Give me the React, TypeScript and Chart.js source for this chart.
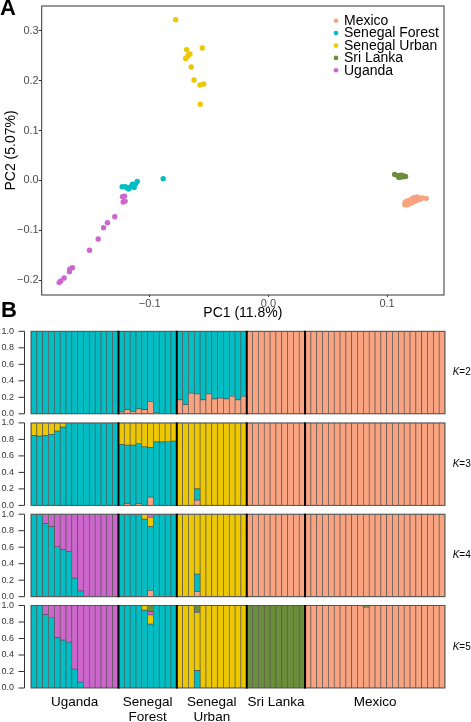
import React, { useEffect, useRef } from 'react';
import { Chart, registerables } from 'chart.js';
Chart.register(...registerables);

const FONT = '"Liberation Sans", Arial, Helvetica, sans-serif';
Chart.defaults.font.family = FONT;
Chart.defaults.color = '#333';

// ---------- Panel A: PCA ----------
const populations = ['Mexico', 'Senegal Forest', 'Senegal Urban', 'Sri Lanka', 'Uganda'];
const popColors = ['#F9A380', '#00BEC4', '#EDC800', '#6B8E3B', '#CC66CC'];

const mexicoPC = [
  [0.1150, -0.049], [0.1153, -0.044], [0.1160, -0.047], [0.1166, -0.042], [0.1172, -0.049], [0.1178, -0.044],
  [0.1185, -0.040], [0.1190, -0.047], [0.1196, -0.042], [0.1203, -0.038], [0.1208, -0.045], [0.1214, -0.040],
  [0.1220, -0.035], [0.1225, -0.043], [0.1231, -0.038], [0.1237, -0.034], [0.1243, -0.041], [0.1249, -0.036],
  [0.1255, -0.033], [0.1262, -0.039], [0.1270, -0.035], [0.1282, -0.038], [0.1298, -0.035], [0.1330, -0.036],
];
const senegalForestPC = [
  [-0.1232, -0.0128], [-0.1207, -0.0128], [-0.1195, -0.0141], [-0.1178, -0.0174], [-0.1159, -0.0128],
  [-0.1145, -0.0074], [-0.1131, -0.0141], [-0.1119, -0.0074], [-0.1105, -0.0021], [-0.0886, 0.0033],
];
const senegalUrbanPC = [
  [-0.0781, 0.3226], [-0.0689, 0.2625], [-0.0557, 0.2657], [-0.0697, 0.2445], [-0.0680, 0.2490], [-0.0661, 0.2537],
  [-0.0672, 0.2525], [-0.0650, 0.2277], [-0.0627, 0.2016], [-0.0576, 0.1916], [-0.0545, 0.1936], [-0.0574, 0.1529],
];
const sriLankaPC = [
  [0.1064, 0.0120], [0.1090, 0.0095], [0.1100, 0.0060], [0.1108, 0.0100], [0.1115, 0.0075],
  [0.1122, 0.0105], [0.1128, 0.0070], [0.1135, 0.0090], [0.1145, 0.0080], [0.1156, 0.0078],
];
const ugandaPC = [
  [-0.1229, -0.0328], [-0.1212, -0.0315], [-0.1223, -0.0435], [-0.1207, -0.0415], [-0.1294, -0.0729],
  [-0.1356, -0.0849], [-0.1389, -0.0949], [-0.1434, -0.1176], [-0.1507, -0.1403], [-0.1651, -0.1751],
  [-0.1673, -0.1784], [-0.1676, -0.1831], [-0.1721, -0.1958], [-0.1749, -0.2018], [-0.1763, -0.2051],
];
const pcaSets = [mexicoPC, senegalForestPC, senegalUrbanPC, sriLankaPC, ugandaPC];
const pc1Ticks = [-0.1, 0.0, 0.1];
const pc2Ticks = [-0.2, -0.1, 0.0, 0.1, 0.2, 0.3];

// ---------- Panel B: admixture ----------
const groupLabels = [['Uganda'], ['Senegal', 'Forest'], ['Senegal', 'Urban'], ['Sri Lanka'], ['Mexico']];
const groupCodes = ['UG', 'SF', 'SU', 'SL', 'MX'];
const groupSizes = [15, 10, 12, 10, 24];
const sampleIds = groupCodes.flatMap((g, i) => Array.from({ length: groupSizes[i] }, (_, j) => `${g}${j + 1}`));
const admixTicks = [0, 0.2, 0.4, 0.6, 0.8, 1.0];

const k2Orange = [
  0, 0, 0, 0, 0, 0, 0, 0, 0, 0, 0, 0, 0, 0, 0,
  0.02, 0.05, 0.03, 0.06, 0.05, 0.15, 0.01, 0.005, 0.005, 0,
  0.17, 0.11, 0.25, 0.24, 0.17, 0.24, 0.18, 0.19, 0.18, 0.21, 0.17, 0.21,
  1, 1, 1, 1, 1, 1, 1, 1, 1, 1,
  1, 1, 1, 1, 1, 1, 1, 1, 1, 1, 1, 1, 1, 1, 1, 1, 1, 1, 1, 1, 1, 1, 1, 1,
];
const k2Cyan = [
  1, 1, 1, 1, 1, 1, 1, 1, 1, 1, 1, 1, 1, 1, 1,
  0.98, 0.95, 0.97, 0.94, 0.95, 0.85, 0.99, 0.995, 0.995, 1,
  0.83, 0.89, 0.75, 0.76, 0.83, 0.76, 0.82, 0.81, 0.82, 0.79, 0.83, 0.79,
  0, 0, 0, 0, 0, 0, 0, 0, 0, 0,
  0, 0, 0, 0, 0, 0, 0, 0, 0, 0, 0, 0, 0, 0, 0, 0, 0, 0, 0, 0, 0, 0, 0, 0,
];

const k3Orange = [
  0, 0, 0, 0, 0, 0, 0, 0, 0, 0, 0, 0, 0, 0, 0,
  0, 0.02, 0, 0.02, 0, 0.1, 0, 0, 0, 0,
  0, 0, 0, 0.065, 0, 0, 0, 0, 0, 0, 0, 0,
  1, 1, 1, 1, 1, 1, 1, 1, 1, 1,
  1, 1, 1, 1, 1, 1, 1, 1, 1, 1, 1, 1, 1, 1, 1, 1, 1, 1, 1, 1, 1, 1, 1, 1,
];
const k3Cyan = [
  0.85, 0.84, 0.85, 0.86, 0.9, 0.95, 1, 1, 1, 1, 1, 1, 1, 1, 1,
  0.74, 0.71, 0.73, 0.73, 0.71, 0.6, 0.77, 0.77, 0.775, 0.78,
  0, 0, 0, 0.135, 0, 0, 0, 0, 0, 0, 0, 0,
  0, 0, 0, 0, 0, 0, 0, 0, 0, 0,
  0, 0, 0, 0, 0, 0, 0, 0, 0, 0, 0, 0, 0, 0, 0, 0, 0, 0, 0, 0, 0, 0, 0, 0,
];
const k3Yellow = [
  0.15, 0.16, 0.15, 0.14, 0.1, 0.05, 0, 0, 0, 0, 0, 0, 0, 0, 0,
  0.26, 0.27, 0.27, 0.25, 0.29, 0.3, 0.23, 0.23, 0.225, 0.22,
  1, 1, 1, 0.8, 1, 1, 1, 1, 1, 1, 1, 1,
  0, 0, 0, 0, 0, 0, 0, 0, 0, 0,
  0, 0, 0, 0, 0, 0, 0, 0, 0, 0, 0, 0, 0, 0, 0, 0, 0, 0, 0, 0, 0, 0, 0, 0,
];

const k4Orange = [
  0, 0, 0, 0, 0, 0, 0, 0, 0, 0, 0, 0, 0, 0, 0,
  0, 0, 0, 0, 0, 0.075, 0, 0, 0, 0,
  0, 0, 0, 0.06, 0, 0, 0, 0, 0, 0, 0, 0,
  1, 1, 1, 1, 1, 1, 1, 1, 1, 1,
  1, 1, 1, 1, 1, 1, 1, 1, 1, 1, 1, 1, 1, 1, 1, 1, 1, 1, 1, 1, 1, 1, 1, 1,
];
const k4Cyan = [
  1, 1, 0.89, 0.85, 0.605, 0.575, 0.55, 0.225, 0.07, 0, 0, 0, 0, 0, 0,
  1, 1, 1, 1, 0.94, 0.775, 1, 1, 1, 1,
  0, 0, 0, 0.215, 0, 0, 0, 0, 0, 0, 0, 0,
  0, 0, 0, 0, 0, 0, 0, 0, 0, 0,
  0, 0, 0, 0, 0, 0, 0, 0, 0, 0, 0, 0, 0, 0, 0, 0, 0, 0, 0, 0, 0, 0, 0, 0,
];
const k4Yellow = [
  0, 0, 0, 0, 0, 0, 0, 0, 0, 0, 0, 0, 0, 0, 0,
  0, 0, 0, 0, 0.06, 0.11, 0, 0, 0, 0,
  1, 1, 1, 0.725, 1, 1, 1, 1, 1, 1, 1, 1,
  0, 0, 0, 0, 0, 0, 0, 0, 0, 0,
  0, 0, 0, 0, 0, 0, 0, 0, 0, 0, 0, 0, 0, 0, 0, 0, 0, 0, 0, 0, 0, 0, 0, 0,
];
const k4Purple = [
  0, 0, 0.11, 0.15, 0.395, 0.425, 0.45, 0.775, 0.93, 1, 1, 1, 1, 1, 1,
  0, 0, 0, 0, 0, 0.04, 0, 0, 0, 0,
  0, 0, 0, 0, 0, 0, 0, 0, 0, 0, 0, 0,
  0, 0, 0, 0, 0, 0, 0, 0, 0, 0,
  0, 0, 0, 0, 0, 0, 0, 0, 0, 0, 0, 0, 0, 0, 0, 0, 0, 0, 0, 0, 0, 0, 0, 0,
];

const k5Orange = [
  0, 0, 0, 0, 0, 0, 0, 0, 0, 0, 0, 0, 0, 0, 0,
  0, 0, 0, 0, 0, 0, 0, 0, 0, 0,
  0, 0, 0, 0, 0, 0, 0, 0, 0, 0, 0, 0,
  0, 0, 0, 0, 0, 0, 0, 0, 0, 0,
  1, 1, 1, 1, 1, 1, 1, 1, 1, 1, 0.98, 1, 1, 1, 1, 1, 1, 1, 1, 1, 1, 1, 1, 1,
];
const k5Cyan = [
  1, 1, 0.89, 0.855, 0.61, 0.58, 0.555, 0.23, 0.07, 0, 0, 0, 0, 0, 0,
  1, 1, 1, 1, 0.945, 0.775, 1, 1, 1, 1,
  0, 0, 0, 0.21, 0, 0, 0, 0, 0, 0, 0, 0,
  0, 0, 0, 0, 0, 0, 0, 0, 0, 0,
  0, 0, 0, 0, 0, 0, 0, 0, 0, 0, 0, 0, 0, 0, 0, 0, 0, 0, 0, 0, 0, 0, 0, 0,
];
const k5Yellow = [
  0, 0, 0, 0, 0, 0, 0, 0, 0, 0, 0, 0, 0, 0, 0,
  0, 0, 0, 0, 0.055, 0.11, 0, 0, 0, 0,
  1, 1, 1, 0.705, 1, 1, 1, 1, 1, 1, 1, 1,
  0, 0, 0, 0, 0, 0, 0, 0, 0, 0,
  0, 0, 0, 0, 0, 0, 0, 0, 0, 0, 0, 0, 0, 0, 0, 0, 0, 0, 0, 0, 0, 0, 0, 0,
];
const k5Purple = [
  0, 0, 0.11, 0.145, 0.39, 0.42, 0.445, 0.77, 0.93, 1, 1, 1, 1, 1, 1,
  0, 0, 0, 0, 0, 0.04, 0, 0, 0, 0,
  0, 0, 0, 0, 0, 0, 0, 0, 0, 0, 0, 0,
  0, 0, 0, 0, 0, 0, 0, 0, 0, 0,
  0, 0, 0, 0, 0, 0, 0, 0, 0, 0, 0, 0, 0, 0, 0, 0, 0, 0, 0, 0, 0, 0, 0, 0,
];
const k5Green = [
  0, 0, 0, 0, 0, 0, 0, 0, 0, 0, 0, 0, 0, 0, 0,
  0, 0, 0, 0, 0, 0.075, 0, 0, 0, 0,
  0, 0, 0, 0.085, 0, 0, 0, 0, 0, 0, 0, 0,
  1, 1, 1, 1, 1, 1, 1, 1, 1, 1,
  0, 0, 0, 0, 0, 0, 0, 0, 0, 0, 0.02, 0, 0, 0, 0, 0, 0, 0, 0, 0, 0, 0, 0, 0,
];

const ORANGE = popColors[0], CYAN = popColors[1], YELLOW = popColors[2], GREEN = popColors[3], PURPLE = popColors[4];

const panels = [
  { k: 2, series: [k2Orange, k2Cyan], colors: [ORANGE, CYAN] },
  { k: 3, series: [k3Orange, k3Cyan, k3Yellow], colors: [ORANGE, CYAN, YELLOW] },
  { k: 4, series: [k4Orange, k4Cyan, k4Yellow, k4Purple], colors: [ORANGE, CYAN, YELLOW, PURPLE] },
  { k: 5, series: [k5Orange, k5Cyan, k5Yellow, k5Purple, k5Green], colors: [ORANGE, CYAN, YELLOW, PURPLE, GREEN] },
];

// ---------- layout ----------
const W = 471;
const PCA_H = 322;
const panelTops = [331.3, 422.9, 514.2, 605.5];
const PANEL_H = 82.5;

const fmtSigned = (v: number) =>
  Math.abs(v) < 1e-9 ? '0.0' : (v < 0 ? '\u2212' : '') + Math.abs(v).toFixed(1);

function PcaChart() {
  const ref = useRef<HTMLCanvasElement>(null);
  useEffect(() => {
    const framePlugin = {
      id: 'pcaFrame',
      afterDatasetsDraw(chart: any) {
        const { ctx, chartArea: ca } = chart;
        ctx.save();
        ctx.strokeStyle = '#333';
        ctx.lineWidth = 1;
        ctx.strokeRect(ca.left, ca.top, ca.right - ca.left, ca.bottom - ca.top);
        ctx.restore();
      },
      afterDraw(chart: any) {
        const { ctx, chartArea: ca } = chart;
        ctx.save();
        ctx.font = `14px ${FONT}`;
        ctx.textBaseline = 'middle';
        ctx.textAlign = 'left';
        populations.forEach((p, i) => {
          const y = ca.top + 14.7 + i * 12.4;
          ctx.fillStyle = popColors[i];
          ctx.beginPath();
          ctx.arc(ca.right - 108, y, 2.3, 0, Math.PI * 2);
          ctx.fill();
          ctx.fillStyle = '#000';
          ctx.fillText(p, ca.right - 100, y + 0.5);
        });
        ctx.restore();
      },
    };
    const chart = new Chart(ref.current!, {
      type: 'scatter',
      data: {
        datasets: pcaSets.map((pts, i) => ({
          label: populations[i],
          data: pts.map(([x, y]) => ({ x, y })),
          backgroundColor: popColors[i],
          borderWidth: 0,
          pointRadius: 2.7,
          pointHoverRadius: 2.7,
        })),
      },
      options: {
        responsive: false,
        animation: false,
        layout: { padding: { top: 6, right: 27, left: 0, bottom: 0 } },
        plugins: { legend: { display: false }, tooltip: { enabled: false } },
        scales: {
          x: {
            type: 'linear',
            min: -0.191,
            max: 0.148,
            afterBuildTicks: (s: any) => { s.ticks = pc1Ticks.map((v) => ({ value: v })); },
            afterFit: (s: any) => { s.height = 27; s.paddingLeft = 0; s.paddingRight = 0; },
            ticks: { callback: (v: any) => fmtSigned(Number(v)), font: { size: 11 }, color: '#4D4D4D', padding: 0, maxRotation: 0 },
            grid: { drawOnChartArea: false, tickLength: 2, color: '#333' },
            border: { display: false },
            title: { display: true, text: 'PC1 (11.8%)', font: { size: 14 }, color: '#000', padding: 0 },
          },
          y: {
            type: 'linear',
            min: -0.23,
            max: 0.35,
            afterBuildTicks: (s: any) => { s.ticks = pc2Ticks.map((v) => ({ value: v })); },
            afterFit: (s: any) => { s.width = 41.7; s.paddingTop = 0; s.paddingBottom = 0; },
            ticks: { callback: (v: any) => fmtSigned(Number(v)), font: { size: 11 }, color: '#4D4D4D', padding: 0 },
            grid: { drawOnChartArea: false, tickLength: 3, color: '#333' },
            border: { display: false },
            title: { display: true, text: 'PC2 (5.07%)', font: { size: 14 }, color: '#000', padding: { top: 3, bottom: 0 } },
          },
        },
      } as any,
      plugins: [framePlugin],
    });
    return () => chart.destroy();
  }, []);
  return (
    <canvas ref={ref} width={W} height={PCA_H}
      style={{ position: 'absolute', left: 0, top: 0, width: W, height: PCA_H }} />
  );
}

function BarPanel({ idx }: { idx: number }) {
  const ref = useRef<HTMLCanvasElement>(null);
  const panel = panels[idx];
  const isLast = idx === panels.length - 1;
  const top = panelTops[idx];
  const canvasTop = Math.floor(top) - 7;
  const padTop = top - canvasTop;
  const H = Math.ceil(padTop + PANEL_H + (isLast ? 40 : 9));
  const padBottom = H - padTop - PANEL_H;

  useEffect(() => {
    const decor = {
      id: 'decor' + panel.k,
      afterDatasetsDraw(chart: any) {
        const { ctx, chartArea: ca, scales } = chart;
        const x = scales.x;
        ctx.save();
        ctx.strokeStyle = '#555';
        ctx.lineWidth = 1;
        ctx.strokeRect(ca.left, ca.top, ca.right - ca.left, ca.bottom - ca.top);
        const step = x.getPixelForValue(1) - x.getPixelForValue(0);
        ctx.strokeStyle = '#000';
        ctx.lineWidth = 2;
        let start = 0;
        groupSizes.slice(0, -1).forEach((n) => {
          start += n;
          const px = x.getPixelForValue(start) - step / 2;
          ctx.beginPath();
          ctx.moveTo(px, ca.top - 0.5);
          ctx.lineTo(px, ca.bottom + 0.5);
          ctx.stroke();
        });
        ctx.restore();
      },
      afterDraw(chart: any) {
        const { ctx, chartArea: ca, scales } = chart;
        const x = scales.x, y = scales.y;
        ctx.save();
        const axX = Math.round(ca.left - 7.5) + 0.5;
        ctx.strokeStyle = '#333';
        ctx.lineWidth = 1;
        ctx.beginPath();
        ctx.moveTo(axX, y.getPixelForValue(0));
        ctx.lineTo(axX, y.getPixelForValue(1));
        y.ticks.forEach((t: any) => {
          const py = y.getPixelForValue(t.value);
          ctx.moveTo(axX - 6, py);
          ctx.lineTo(axX, py);
        });
        ctx.stroke();
        const cy = (ca.top + ca.bottom) / 2;
        ctx.fillStyle = '#000';
        ctx.textBaseline = 'middle';
        ctx.textAlign = 'left';
        ctx.font = `italic 10px ${FONT}`;
        const kx = 452.7;
        ctx.fillText('K', kx, cy);
        const kw = ctx.measureText('K').width;
        ctx.font = `10px ${FONT}`;
        ctx.fillText('=' + panel.k, kx + kw, cy);
        if (isLast) {
          const step = x.getPixelForValue(1) - x.getPixelForValue(0);
          ctx.font = `13.5px ${FONT}`;
          ctx.textAlign = 'center';
          let start = 0;
          groupSizes.forEach((n, gi) => {
            const left = x.getPixelForValue(start) - step / 2;
            const right = x.getPixelForValue(start + n - 1) + step / 2;
            const cx = (left + right) / 2;
            groupLabels[gi].forEach((line, li) => {
              ctx.fillText(line, cx, ca.bottom + 14 + li * 15);
            });
            start += n;
          });
        }
        ctx.restore();
      },
    };

    const chart = new Chart(ref.current!, {
      type: 'bar',
      data: {
        labels: sampleIds,
        datasets: panel.series.map((s, i) => ({
          label: `K${panel.k} cluster ${i + 1}`,
          data: s,
          backgroundColor: panel.colors[i],
          borderColor: '#555',
          borderWidth: 0.7,
          borderSkipped: false,
          barPercentage: 1,
          categoryPercentage: 1,
        })),
      },
      options: {
        responsive: false,
        animation: false,
        layout: { padding: { top: padTop, bottom: padBottom, left: 0, right: W - 445 } },
        plugins: { legend: { display: false }, tooltip: { enabled: false } },
        scales: {
          x: { type: 'category', display: false, stacked: true, offset: true },
          y: {
            type: 'linear',
            stacked: true,
            min: 0,
            max: 1,
            afterBuildTicks: (s: any) => { s.ticks = admixTicks.map((v) => ({ value: v })); },
            afterFit: (s: any) => { s.width = 31; s.paddingTop = 0; s.paddingBottom = 0; },
            ticks: { callback: (v: any) => Number(v).toFixed(1), font: { size: 9 }, color: '#333', padding: 17, autoSkip: false },
            grid: { display: false, drawTicks: false },
            border: { display: false },
          },
        },
      } as any,
      plugins: [decor],
    });
    return () => chart.destroy();
  }, []);

  return (
    <canvas ref={ref} width={W} height={H}
      style={{ position: 'absolute', left: 0, top: canvasTop, width: W, height: H }} />
  );
}

export default function App() {
  const letter: React.CSSProperties = {
    position: 'absolute', left: 0, fontFamily: FONT, fontWeight: 'bold', fontSize: 22, lineHeight: '22px', color: '#000',
  };
  return (
    <div style={{ position: 'absolute', left: 0, top: 0, width: W, height: 722, overflow: 'hidden', background: '#fff' }}>
      <PcaChart />
      {panels.map((_, i) => <BarPanel key={i} idx={i} />)}
      <div style={{ ...letter, top: -3 }}>A</div>
      <div style={{ ...letter, top: 299, left: 1 }}>B</div>
    </div>
  );
}
